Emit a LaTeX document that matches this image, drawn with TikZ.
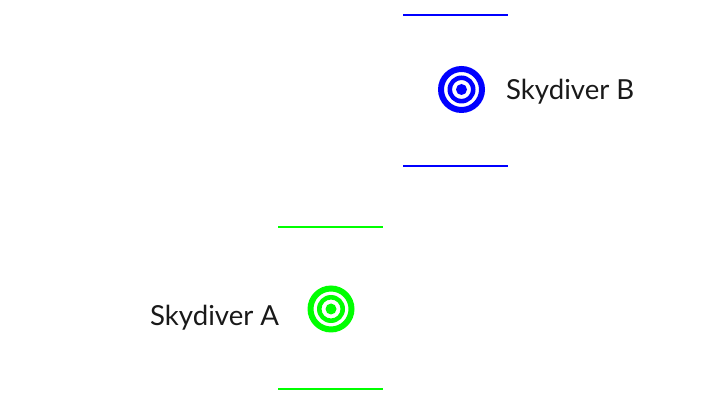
\documentclass[tikz,border=0pt]{standalone}
\usepackage{fontspec}
\setmainfont{Lato}
\begin{document}
\begin{tikzpicture}[x=1pt,y=-1pt,
  lbl/.style={anchor=base west,inner sep=0pt,font=\fontsize{27.6}{30}\selectfont,text=black!90},
  bline/.style={draw=blue,line width=1.2pt},
  gline/.style={draw=green,line width=1.2pt}]
\useasboundingbox (0,0) rectangle (704,411);
% Skydiver B
\coordinate (b1s) at (403,15); \coordinate (b1e) at (508,15);
\coordinate (b2s) at (403,166); \coordinate (b2e) at (508,166);
\draw[bline] (b1s) -- (b1e);
\draw[bline] (b2s) -- (b2e);
\coordinate (tb) at (461.5,89.5);
\fill[blue,even odd rule] (tb) circle (23.5) (tb) circle (17.5);
\fill[blue,even odd rule] (tb) circle (14) (tb) circle (9.5);
\fill[blue] (tb) circle (5.5);
\node[lbl] (lb) at (506,99.5) {Skydiver B};
% Skydiver A
\coordinate (a1s) at (278,227); \coordinate (a1e) at (383,227);
\coordinate (a2s) at (278,389); \coordinate (a2e) at (383,389);
\draw[gline] (a1s) -- (a1e);
\draw[gline] (a2s) -- (a2e);
\coordinate (ta) at (331,309);
\fill[green,even odd rule] (ta) circle (23.5) (ta) circle (17.5);
\fill[green,even odd rule] (ta) circle (14) (ta) circle (9.5);
\fill[green] (ta) circle (5.5);
\node[lbl] (la) at (150,325.5) {Skydiver A};
\end{tikzpicture}
\end{document}
